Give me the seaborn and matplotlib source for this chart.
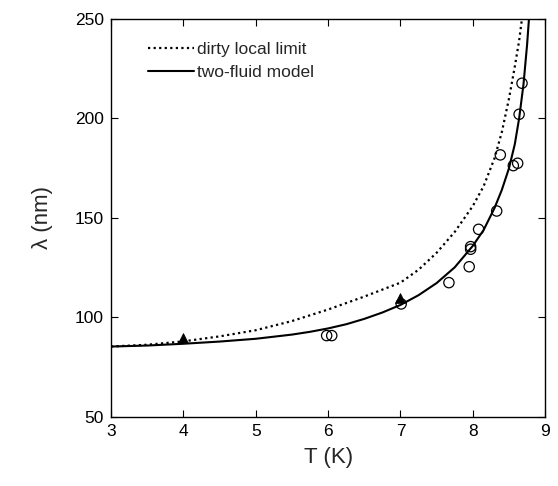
import matplotlib
matplotlib.use("Agg")
import matplotlib.pyplot as plt
import seaborn as sns
import pandas as pd
from matplotlib.ticker import MultipleLocator

# ---- data ----
T_twofluid = [3.0, 3.5, 4.0, 4.5, 5.0, 5.5, 5.75, 6.0, 6.25, 6.5, 6.75, 7.0, 7.25, 7.5, 7.75, 8.0,
              8.15, 8.3, 8.4, 8.5, 8.58, 8.64, 8.7, 8.75, 8.8]
lam_twofluid = [85.4, 85.9, 86.8, 87.9, 89.3, 91.4, 92.8, 94.5, 96.6, 99.3, 102.5, 106.3, 111.2, 117.3,
                125.2, 136.0, 144.0, 155.0, 164.0, 175.0, 187.0, 200.0, 217.0, 237.0, 262.0]

T_dirty = [3.0, 3.5, 4.0, 4.5, 5.0, 5.5, 6.0, 6.5, 7.0, 7.25, 7.5, 7.75, 8.0,
           8.15, 8.3, 8.4, 8.5, 8.58, 8.64, 8.7]
lam_dirty = [85.4, 86.3, 88.0, 90.5, 93.6, 98.2, 104.0, 110.5, 117.5, 124.0, 132.5,
             143.0, 156.0, 166.0, 180.0, 193.0, 210.0, 226.0, 239.0, 256.0]

T_circles = [5.98, 6.05, 7.01, 7.67, 7.95, 7.97, 7.97, 8.08, 8.33, 8.38, 8.56, 8.62, 8.64, 8.68]
lam_circles = [90.9, 90.9, 106.8, 117.5, 125.5, 134.3, 135.6, 144.3, 153.5, 181.7, 176.3, 177.5, 202.1, 217.7]

T_triangles = [4.0, 7.0]
lam_triangles = [89.5, 109.8]

legend_labels = ["dirty local limit", "two-fluid model"]

# ---- styling ----
sns.set_style("ticks")
plt.rcParams['font.family'] = ['Liberation Sans', 'DejaVu Sans']

fig = plt.figure(figsize=(5.58, 4.86), dpi=100)
ax = fig.add_axes([0.199, 0.142, 0.778, 0.819])

df_d = pd.DataFrame({"T": T_dirty, "lam": lam_dirty})
df_t = pd.DataFrame({"T": T_twofluid, "lam": lam_twofluid})
df_c = pd.DataFrame({"T": T_circles, "lam": lam_circles})
df_tr = pd.DataFrame({"T": T_triangles, "lam": lam_triangles})

sns.lineplot(data=df_d, x="T", y="lam", ax=ax, color="black", lw=1.6,
             linestyle=(0, (1, 1.5)), label=legend_labels[0], sort=True)
sns.lineplot(data=df_t, x="T", y="lam", ax=ax, color="black", lw=1.5,
             linestyle="-", label=legend_labels[1], sort=True)
sns.scatterplot(data=df_c, x="T", y="lam", ax=ax, marker="o", s=55,
                facecolor="none", edgecolor="black", linewidth=0.9, zorder=3)
sns.scatterplot(data=df_tr, x="T", y="lam", ax=ax, marker="^", s=50,
                color="black", edgecolor="black", zorder=4)

ax.set_xlim(3, 9)
ax.set_ylim(50, 250)
ax.xaxis.set_major_locator(MultipleLocator(1))
ax.yaxis.set_major_locator(MultipleLocator(50))
ax.tick_params(axis="both", which="major", direction="in", length=5, width=0.8,
               top=True, right=True, labelsize=12.5, pad=5, colors="black")
for s in ax.spines.values():
    s.set_linewidth(1.0)
    s.set_color("black")

ax.set_xlabel("T (K)", fontsize=16, labelpad=6)
ax.set_ylabel("λ (nm)", fontsize=16, labelpad=16)

leg = ax.legend(loc="upper left", bbox_to_anchor=(0.07, 0.96), frameon=False,
                fontsize=12.5, handlelength=2.6, handletextpad=0.2,
                labelspacing=0.45, borderaxespad=0)

fig.savefig("out.png", dpi=100)
